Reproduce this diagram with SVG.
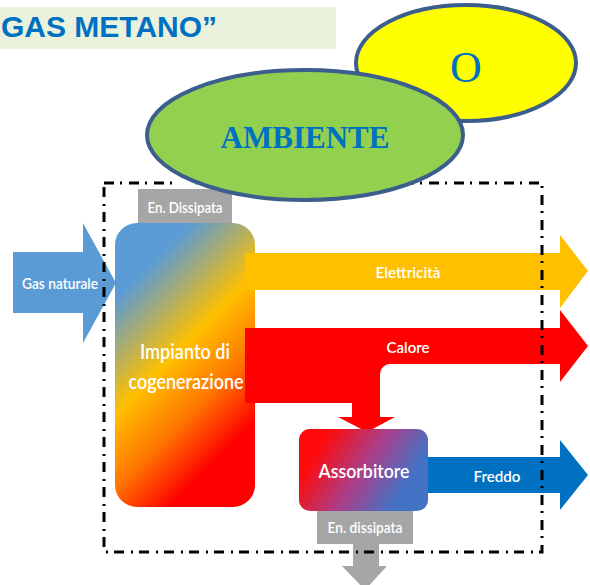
<svg xmlns="http://www.w3.org/2000/svg" width="590" height="585" viewBox="0 0 590 585">
<defs>
<linearGradient id="gImp" gradientUnits="userSpaceOnUse" x1="115" y1="223" x2="327" y2="435">
<stop offset="0" stop-color="#5B9BD5"/>
<stop offset="0.18" stop-color="#5B9BD5"/>
<stop offset="0.45" stop-color="#FFC000"/>
<stop offset="0.62" stop-color="#FF7A00"/>
<stop offset="0.8" stop-color="#FF0000"/>
<stop offset="1" stop-color="#FF0000"/>
</linearGradient>
<linearGradient id="gAss" x1="0" y1="0.3" x2="1" y2="0.7">
<stop offset="0.1" stop-color="#FF0A0A"/>
<stop offset="0.5" stop-color="#A8408C"/>
<stop offset="0.85" stop-color="#4472C4"/>
</linearGradient>
<style>
.lbl{font-family:Lato,"Open Sans",sans-serif;font-weight:600;fill:#fff;text-anchor:middle}
.ell{stroke:#3B5E8D;stroke-width:4}
.frame{fill:none;stroke:#000;stroke-width:3;stroke-dasharray:10 6 2 7}
</style>
</defs>

<g id="title">
<rect x="0" y="7" width="336" height="42" fill="#EAF1DD"/>
<text x="1" y="37" font-family="Liberation Sans, Arial, sans-serif" font-weight="bold" font-size="30" fill="#0070C0">GAS METANO”</text>
</g>

<g id="connectors">
<g id="gas-naturale">
<path d="M13 252 H83 V223 L116 283 L83 343 V313 H13 Z" fill="#5B9BD5"/>
<text class="lbl" x="60" y="289" font-size="16" textLength="76" lengthAdjust="spacingAndGlyphs">Gas naturale</text>
</g>
<g id="dissipata-top">
<rect x="138" y="189" width="94" height="35" fill="#A6A6A6"/>
<text class="lbl" x="185" y="213" font-size="16" textLength="75" lengthAdjust="spacingAndGlyphs">En. Dissipata</text>
</g>
</g>

<g id="impianto">
<rect x="115" y="223" width="140" height="284" rx="22" fill="url(#gImp)"/>
</g>

<g id="arrows">
<g id="elettricita">
<path d="M245 253 H560 V235 L588 271 L560 308 V290 H245 Z" fill="#FFC000"/>
<text class="lbl" x="408" y="278" font-size="16" textLength="65" lengthAdjust="spacingAndGlyphs">Elettricità</text>
</g>
<g id="calore">
<path d="M245 328 H560 V310 L588 346 L560 382 V364 H390 A10 10 0 0 0 380 374 V417 H395 L367 432 L338 417 H352 V403 H245 Z" fill="#FF0000"/>
<text class="lbl" x="408" y="353" font-size="16" textLength="43" lengthAdjust="spacingAndGlyphs">Calore</text>
</g>
<g id="freddo">
<path d="M420 457 H560 V440 L588 475 L560 510 V493 H420 Z" fill="#0070C0"/>
<text class="lbl" x="497" y="482" font-size="16" textLength="47" lengthAdjust="spacingAndGlyphs">Freddo</text>
</g>
<g id="dissipata-bottom">
<rect x="317" y="508" width="96" height="36" fill="#A6A6A6"/>
<path d="M353 544 H379 V566 H387 L365 590 L342 566 H353 Z" fill="#A6A6A6"/>
<text class="lbl" x="365" y="533" font-size="16" textLength="75" lengthAdjust="spacingAndGlyphs">En. dissipata</text>
</g>
</g>

<g id="impianto-label">
<text class="lbl" x="185" y="359" font-size="21" textLength="90" lengthAdjust="spacingAndGlyphs">Impianto di</text>
<text class="lbl" x="186" y="389" font-size="21" textLength="115" lengthAdjust="spacingAndGlyphs">cogenerazione</text>
</g>

<g id="assorbitore">
<rect x="299" y="429" width="129" height="82" rx="11" fill="url(#gAss)"/>
<text class="lbl" x="364" y="478" font-size="20" font-weight="bold" textLength="91" lengthAdjust="spacingAndGlyphs">Assorbitore</text>
</g>

<g id="boundary">
<rect class="frame" x="104" y="183" width="438" height="369"/>
<rect x="173" y="176" width="23" height="13" fill="#fff"/>
</g>

<g id="ellipse-o">
<ellipse class="ell" cx="466" cy="63" rx="110" ry="58" fill="#FFFF00"/>
<text x="466" y="82" font-family="Liberation Serif, 'Times New Roman', serif" font-size="44" fill="#0070C0" text-anchor="middle">O</text>
</g>

<g id="ellipse-ambiente">
<ellipse class="ell" cx="305" cy="135" rx="158" ry="65" fill="#92D050"/>
<text x="305" y="148" font-family="Liberation Serif, 'Times New Roman', serif" font-weight="bold" font-size="31" fill="#0070C0" text-anchor="middle">AMBIENTE</text>
</g>
</svg>
